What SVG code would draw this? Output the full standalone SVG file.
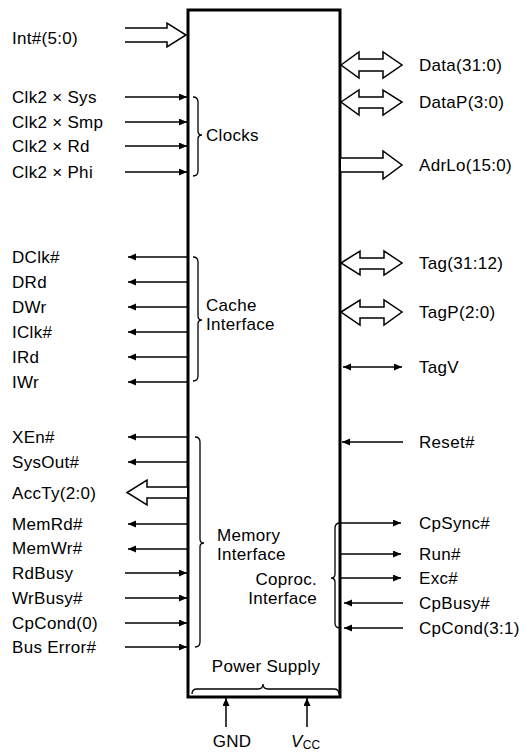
<svg xmlns="http://www.w3.org/2000/svg" width="528" height="752" viewBox="0 0 528 752">
<style>
text{font-family:"Liberation Sans",Arial,Helvetica,sans-serif;font-size:17px;fill:#000;letter-spacing:0.3px}
.w{fill:none;stroke:#000;stroke-width:1.5}
.bus{fill:#fff;stroke:#000;stroke-width:1.5;stroke-linejoin:miter}
.brace{fill:none;stroke:#000;stroke-width:1.3}
.box{fill:#fff;stroke:#000;stroke-width:3}
</style>
<defs>
<marker id="ah" markerUnits="userSpaceOnUse" markerWidth="9" markerHeight="8" refX="8" refY="3.5" orient="auto-start-reverse">
<path d="M0,0 L8,3.5 L0,7 z" fill="#000"/>
</marker>
</defs>
<rect width="528" height="752" fill="#fff"/>

<g id="chip">
<rect class="box" x="188" y="10" width="152" height="687"/>
<path class="brace" d="M193,97 Q198,97 198,102 L198,131 Q198,135 202,135 Q198,135 198,139 L198,171 Q198,176 193,176"/>
<text x="206" y="141">Clocks</text>
<path class="brace" d="M193,257 Q198,257 198,262 L198,316 Q198,320 202,320 Q198,320 198,324 L198,376 Q198,381 193,381"/>
<text x="206" y="311">Cache</text>
<text x="206" y="330">Interface</text>
<path class="brace" d="M195,437 Q200,437 200,442 L200,539 Q200,543 204,543 Q200,543 200,547 L200,642 Q200,647 195,647"/>
<text x="217" y="541">Memory</text>
<text x="217" y="560">Interface</text>
<path class="brace" d="M340,523 Q335,523 335,528 L335,574 Q335,578 331,578 Q335,578 335,582 L335,623 Q335,628 340,628"/>
<text x="317" y="585" text-anchor="end">Coproc.</text>
<text x="317" y="604" text-anchor="end">Interface</text>
<path class="brace" d="M192,694 Q192,689 197,689 L258,689 Q263,689 263,684 Q263,689 268,689 L334,689 Q339,689 339,694"/>
<text x="266" y="672" text-anchor="middle">Power Supply</text>
</g>

<g id="sig-int"><text x="12" y="44">Int#(5:0)</text></g>
<g id="sig-clk2sys"><text x="12" y="103">Clk2 × Sys</text></g>
<g id="sig-clk2smp"><text x="12" y="128">Clk2 × Smp</text></g>
<g id="sig-clk2rd"><text x="12" y="152">Clk2 × Rd</text></g>
<g id="sig-clk2phi"><text x="12" y="178">Clk2 × Phi</text></g>
<g id="sig-dclk"><text x="12" y="263">DClk#</text></g>
<g id="sig-drd"><text x="12" y="288">DRd</text></g>
<g id="sig-dwr"><text x="12" y="313">DWr</text></g>
<g id="sig-iclk"><text x="12" y="338">IClk#</text></g>
<g id="sig-ird"><text x="12" y="363">IRd</text></g>
<g id="sig-iwr"><text x="12" y="388">IWr</text></g>
<g id="sig-xen"><text x="12" y="443">XEn#</text></g>
<g id="sig-sysout"><text x="12" y="468">SysOut#</text></g>
<g id="sig-accty"><text x="12" y="499">AccTy(2:0)</text></g>
<g id="sig-memrd"><text x="12" y="530">MemRd#</text></g>
<g id="sig-memwr"><text x="12" y="554">MemWr#</text></g>
<g id="sig-rdbusy"><text x="12" y="579">RdBusy</text></g>
<g id="sig-wrbusy"><text x="12" y="604">WrBusy#</text></g>
<g id="sig-cpcond0"><text x="12" y="629">CpCond(0)</text></g>
<g id="sig-buserror"><text x="12" y="653">Bus Error#</text></g>

<g id="sig-data"><text x="419" y="71">Data(31:0)</text></g>
<g id="sig-datap"><text x="419" y="108">DataP(3:0)</text></g>
<g id="sig-adrlo"><text x="419" y="171">AdrLo(15:0)</text></g>
<g id="sig-tag"><text x="419" y="269">Tag(31:12)</text></g>
<g id="sig-tagp"><text x="419" y="318">TagP(2:0)</text></g>
<g id="sig-tagv"><text x="419" y="373">TagV</text></g>
<g id="sig-reset"><text x="419" y="448">Reset#</text></g>
<g id="sig-cpsync"><text x="419" y="529">CpSync#</text></g>
<g id="sig-run"><text x="419" y="560">Run#</text></g>
<g id="sig-exc"><text x="419" y="584">Exc#</text></g>
<g id="sig-cpbusy"><text x="419" y="609">CpBusy#</text></g>
<g id="sig-cpcond31"><text x="419" y="634">CpCond(3:1)</text></g>

<g id="sig-gnd"><text x="232" y="747" text-anchor="middle">GND</text></g>
<g id="sig-vcc"><text x="291" y="747" font-style="italic">V<tspan font-size="12" font-style="normal" dy="2">CC</tspan></text></g>

<g id="connectors">
<path class="bus" d="M125,28 H167 V23 L186,35 L167,47 V42 H125"/>
<line class="w" x1="125" y1="97" x2="187" y2="97" marker-end="url(#ah)"/>
<line class="w" x1="125" y1="122" x2="187" y2="122" marker-end="url(#ah)"/>
<line class="w" x1="125" y1="146" x2="187" y2="146" marker-end="url(#ah)"/>
<line class="w" x1="125" y1="172" x2="187" y2="172" marker-end="url(#ah)"/>
<line class="w" x1="187" y1="257" x2="128" y2="257" marker-end="url(#ah)"/>
<line class="w" x1="187" y1="282" x2="128" y2="282" marker-end="url(#ah)"/>
<line class="w" x1="187" y1="307" x2="128" y2="307" marker-end="url(#ah)"/>
<line class="w" x1="187" y1="332" x2="128" y2="332" marker-end="url(#ah)"/>
<line class="w" x1="187" y1="357" x2="128" y2="357" marker-end="url(#ah)"/>
<line class="w" x1="187" y1="382" x2="128" y2="382" marker-end="url(#ah)"/>
<line class="w" x1="187" y1="437" x2="128" y2="437" marker-end="url(#ah)"/>
<line class="w" x1="187" y1="462" x2="128" y2="462" marker-end="url(#ah)"/>
<path class="bus" d="M187,487 H147 V480 L127,492.5 L147,505 V498 H187"/>
<line class="w" x1="187" y1="524" x2="128" y2="524" marker-end="url(#ah)"/>
<line class="w" x1="187" y1="549" x2="128" y2="549" marker-end="url(#ah)"/>
<line class="w" x1="125" y1="573" x2="187" y2="573" marker-end="url(#ah)"/>
<line class="w" x1="125" y1="598" x2="187" y2="598" marker-end="url(#ah)"/>
<line class="w" x1="125" y1="623" x2="187" y2="623" marker-end="url(#ah)"/>
<line class="w" x1="125" y1="647" x2="187" y2="647" marker-end="url(#ah)"/>
<path class="bus" d="M341,65 L359,52 V59 H383 V52 L402,65 L383,78 V71 H359 V78 Z"/>
<path class="bus" d="M341,102 L359,90 V97 H383 V90 L402,102 L383,115 V108 H359 V115 Z"/>
<path class="bus" d="M341,158 H383 V151 L402,165 L383,179 V172 H341"/>
<path class="bus" d="M341,263 L360,251 V258 H384 V251 L402,263 L384,275 V269 H360 V275 Z"/>
<path class="bus" d="M341,312 L360,300 V307 H384 V300 L402,312 L384,325 V318 H360 V325 Z"/>
<line class="w" x1="343" y1="367" x2="402" y2="367" marker-start="url(#ah)" marker-end="url(#ah)"/>
<line class="w" x1="403" y1="442" x2="342" y2="442" marker-end="url(#ah)"/>
<line class="w" x1="341" y1="523" x2="401" y2="523" marker-end="url(#ah)"/>
<line class="w" x1="341" y1="554" x2="401" y2="554" marker-end="url(#ah)"/>
<line class="w" x1="341" y1="578" x2="401" y2="578" marker-end="url(#ah)"/>
<line class="w" x1="403" y1="603" x2="344" y2="603" marker-end="url(#ah)"/>
<line class="w" x1="403" y1="628" x2="344" y2="628" marker-end="url(#ah)"/>
<line class="w" x1="226" y1="727" x2="226" y2="698" marker-end="url(#ah)"/>
<line class="w" x1="307" y1="727" x2="307" y2="698" marker-end="url(#ah)"/>
</g>
</svg>
